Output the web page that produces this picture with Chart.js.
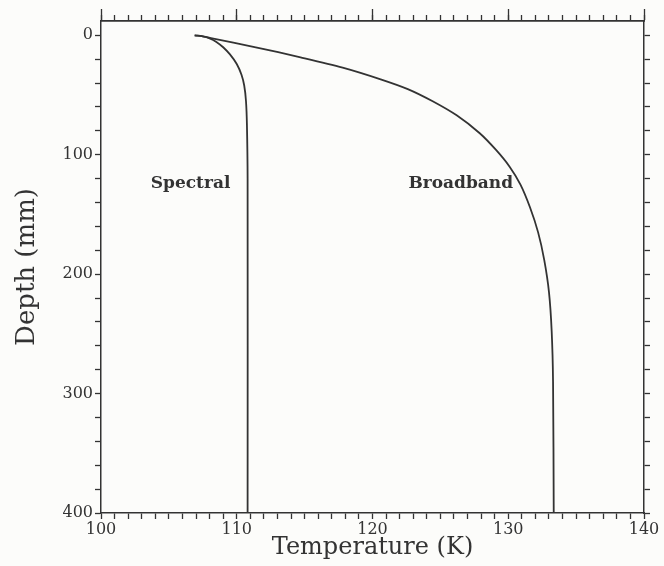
<!DOCTYPE html>
<html>
<head>
<meta charset="utf-8">
<script src="https://cdn.jsdelivr.net/npm/chart.js@4/dist/chart.umd.min.js"></script>
<style>
  html, body { margin: 0; padding: 0; background: #fcfcfa; }
  #wrap { width: 664px; height: 566px; }
</style>
</head>
<body>
<div id="wrap"><canvas id="myChart" width="664" height="566"></canvas></div>
<script>
// temperature (K) against depth (mm)
var spectralTemp  = [106.9, 107.5, 108.0, 108.5, 109.0, 109.5, 110.0, 110.35, 110.55, 110.68, 110.75, 110.8, 110.8]
var spectralDepth = [0, 0.8, 2.5, 5.5, 10, 16, 24, 33, 42, 55, 75, 120, 400]

var broadbandTemp  = [106.9, 107.6, 108.1, 111.4, 114.7, 117.8, 120.6, 122.6, 124.4, 126.2, 127.9, 129.1, 130.1, 130.9, 131.6, 132.2, 132.65, 133.0, 133.2, 133.3, 133.35]
var broadbandDepth = [0, 1, 2.3, 10, 18.4, 27, 36.8, 45, 55, 67, 82, 96, 110, 125, 144, 165, 188, 215, 248, 290, 400]

var curveNames = ["Spectral", "Broadband"]
var nameTemp = [106.6, 126.5]
var nameDepth = [124, 124]

var ink = '#333'
var serif = "'DejaVu Serif', serif"

function toPoints(xs, ys) {
    let pts = []
    for (let i = 0; i < xs.length; i++) {
        pts.push({ x: xs[i], y: ys[i] })
    }
    return pts
}

// curve names written next to each line
const curveLabels = {
    id: 'curveLabels',
    afterDatasetsDraw(chart) {
        const ctx = chart.ctx
        const xs = chart.scales.x
        const ys = chart.scales.y
        ctx.save()
        ctx.fillStyle = ink
        ctx.font = "bold 17px " + serif
        ctx.textAlign = 'center'
        ctx.textBaseline = 'middle'
        for (let i = 0; i < curveNames.length; i++) {
            ctx.fillText(curveNames[i], xs.getPixelForValue(nameTemp[i]), ys.getPixelForValue(nameDepth[i]))
        }
        ctx.restore()
    }
}

function tickGrid(len) {
    return { drawOnChartArea: false, color: ink, tickColor: ink, tickWidth: 1.3, tickLength: len }
}

function plainAxis(extra) {
    let axis = {
        type: 'linear',
        border: { display: true, color: ink, width: 1.5 }
    }
    return Object.assign(axis, extra)
}

const chartConfig = {
    type: 'scatter',
    data: {
        datasets: [
            { label: curveNames[0], data: toPoints(spectralTemp, spectralDepth) },
            { label: curveNames[1], data: toPoints(broadbandTemp, broadbandDepth) }
        ]
    },
    options: {
        responsive: false,
        animation: false,
        showLine: true,
        layout: { padding: { top: 21, right: 20, left: 0, bottom: 0 } },
        elements: {
            point: { radius: 0 },
            line: { borderColor: ink, borderWidth: 1.8, tension: 0.3 }
        },
        plugins: {
            legend: { display: false },
            tooltip: { enabled: false }
        },
        scales: {
            x: plainAxis({
                position: 'bottom',
                min: 100,
                max: 140,
                afterFit: function (s) { s.height = 53 },
                grid: tickGrid(6),
                ticks: {
                    stepSize: 1,
                    autoSkip: false,
                    maxRotation: 0,
                    padding: 1,
                    color: ink,
                    font: { family: serif, size: 16 },
                    callback: function (v) { return Math.round(v) % 10 === 0 ? Math.round(v) : '' }
                },
                title: {
                    display: true,
                    text: 'Temperature (K)',
                    color: ink,
                    font: { family: serif, size: 24 },
                    padding: { top: 0, bottom: 4 }
                }
            }),
            xTopMajor: plainAxis({
                position: 'top',
                min: 100,
                max: 140,
                afterFit: function (s) { s.height = 0 },
                grid: tickGrid(12),
                ticks: { display: false, stepSize: 10 }
            }),
            xTopMinor: plainAxis({
                position: 'top',
                min: 100,
                max: 140,
                afterFit: function (s) { s.height = 0 },
                grid: tickGrid(6),
                ticks: { display: false, stepSize: 1, autoSkip: false }
            }),
            y: plainAxis({
                position: 'left',
                reverse: true,
                min: -12,
                max: 400,
                afterFit: function (s) { s.width = 101 },
                grid: tickGrid(6),
                ticks: {
                    stepSize: 20,
                    includeBounds: false,
                    autoSkip: false,
                    padding: 2,
                    color: ink,
                    font: { family: serif, size: 16 },
                    callback: function (v) { return Math.round(v) % 100 === 0 ? Math.round(v) : '' }
                },
                title: {
                    display: true,
                    text: 'Depth (mm)',
                    color: ink,
                    font: { family: serif, size: 26 },
                    padding: { top: 12, bottom: 0 }
                }
            }),
            yRight: plainAxis({
                position: 'right',
                reverse: true,
                min: -12,
                max: 400,
                afterFit: function (s) { s.width = 0 },
                grid: tickGrid(6),
                ticks: { display: false, stepSize: 20, includeBounds: false, autoSkip: false }
            })
        }
    },
    plugins: [curveLabels]
}

new Chart(document.getElementById('myChart'), chartConfig)
</script>
</body>
</html>
